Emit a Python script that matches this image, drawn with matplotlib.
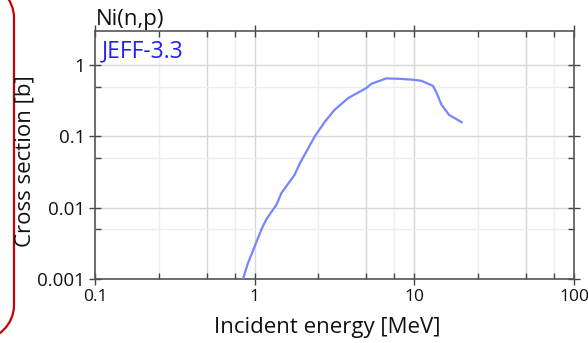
import numpy as np
import matplotlib
matplotlib.use("Agg")
import matplotlib.pyplot as plt
from matplotlib.path import Path
from matplotlib.patches import PathPatch
from matplotlib.ticker import FixedLocator, NullFormatter

# Data
energy_mev = [0.845, 0.908, 1.0, 1.10, 1.18, 1.37, 1.47, 1.78, 1.92, 2.38, 2.75,
              3.17, 3.85, 5.0, 5.39, 6.69, 8.11, 10.0, 11.1, 13.1, 13.8, 14.8,
              16.5, 17.9, 19.8]
cross_section_b = [0.001, 0.00167, 0.00286, 0.0049, 0.0068, 0.011, 0.016, 0.029,
                   0.042, 0.10, 0.16, 0.236, 0.344, 0.475, 0.547, 0.65, 0.64,
                   0.62, 0.60, 0.51, 0.405, 0.277, 0.20, 0.18, 0.158]
x_major = [0.1, 1, 10, 100]
x_major_labels = ["0.1", "1", "10", "100"]
x_minor = [0.25, 0.5, 0.75, 2.5, 5, 7.5, 25, 50, 75]
y_major = [0.001, 0.01, 0.1, 1]
y_major_labels = ["0.001", "0.01", "0.1", "1"]
y_minor = [0.005, 0.05, 0.5]

FONT = ["Open Sans", "DejaVu Sans"]
plt.rcParams["font.family"] = FONT

W, H = 588, 343
fig = plt.figure(figsize=(W / 100, H / 100), dpi=100)
ax = fig.add_axes([95 / W, 1 - 279 / H, (574 - 95) / W, (279 - 31) / H])
ax.set_xscale("log")
ax.set_yscale("log")
ax.set_xlim(0.1, 100)
ax.set_ylim(0.001, 3.0)

# grid
for v in x_minor + x_major:
    c = "#d6d6d6" if v in (0.5, 1, 5, 10, 50) else "#ededed"
    ax.axvline(v, color=c, lw=1.0, zorder=0)
for v in y_major:
    ax.axhline(v, color="#d6d6d6", lw=1.0, zorder=0)
for v in y_minor:
    ax.axhline(v, color="#ededed", lw=1.0, zorder=0)

ax.plot(energy_mev, cross_section_b, color="#7585ff", lw=1.6, zorder=3)

ax.xaxis.set_major_locator(FixedLocator(x_major))
ax.xaxis.set_minor_locator(FixedLocator(x_minor))
ax.yaxis.set_major_locator(FixedLocator(y_major))
ax.yaxis.set_minor_locator(FixedLocator(y_minor))
ax.set_xticklabels(x_major_labels)
ax.set_yticklabels(y_major_labels)
ax.xaxis.set_minor_formatter(NullFormatter())
ax.yaxis.set_minor_formatter(NullFormatter())

ax.tick_params(which="major", direction="inout", length=8, width=1.0, color="#444444",
               labelsize=13.5, pad=3, top=True, right=True, labelcolor="#111111")
ax.tick_params(which="minor", direction="in", length=4, width=1.0, color="#444444",
               top=True, right=True)
ax.tick_params(axis="x", which="major", pad=3, labelsize=12.5)
for s in ax.spines.values():
    s.set_color("#555555")
    s.set_linewidth(1.2)

fig.text(327 / W, 1 - 333 / H, "Incident energy [MeV]", ha="center", va="baseline",
         fontsize=16, color="#111111")
fig.text(25 / W, 1 - 161 / H, "Cross section [b]", ha="center", va="center",
         rotation=90, fontsize=16, color="#111111")
fig.text(96 / W, 1 - 25 / H, "Ni(n,p)", ha="left", va="baseline",
         fontsize=16, color="#111111")
fig.text(102 / W, 1 - 57 / H, "JEFF-3.3", ha="left", va="baseline",
         fontsize=16.5, color="#2020ff")

# red rounded frame on the left edge (display pixel coords, origin bottom-left)
r = 35
xr = 14
ytop = H + 17
ybot = H - 340
k = 0.5523 * r
verts = [(-60, ytop), (xr - r, ytop),
         (xr - r + k, ytop), (xr, ytop - r + k), (xr, ytop - r),
         (xr, ybot + r),
         (xr, ybot + r - k), (xr - r + k, ybot), (xr - r, ybot),
         (-60, ybot)]
codes = [Path.MOVETO, Path.LINETO, Path.CURVE4, Path.CURVE4, Path.CURVE4,
         Path.LINETO, Path.CURVE4, Path.CURVE4, Path.CURVE4, Path.LINETO]
patch = PathPatch(Path(verts, codes), facecolor="none", edgecolor="#cc0000",
                  lw=1.6, transform=None, clip_on=False)
fig.add_artist(patch)

fig.savefig("out.png", dpi=100)
